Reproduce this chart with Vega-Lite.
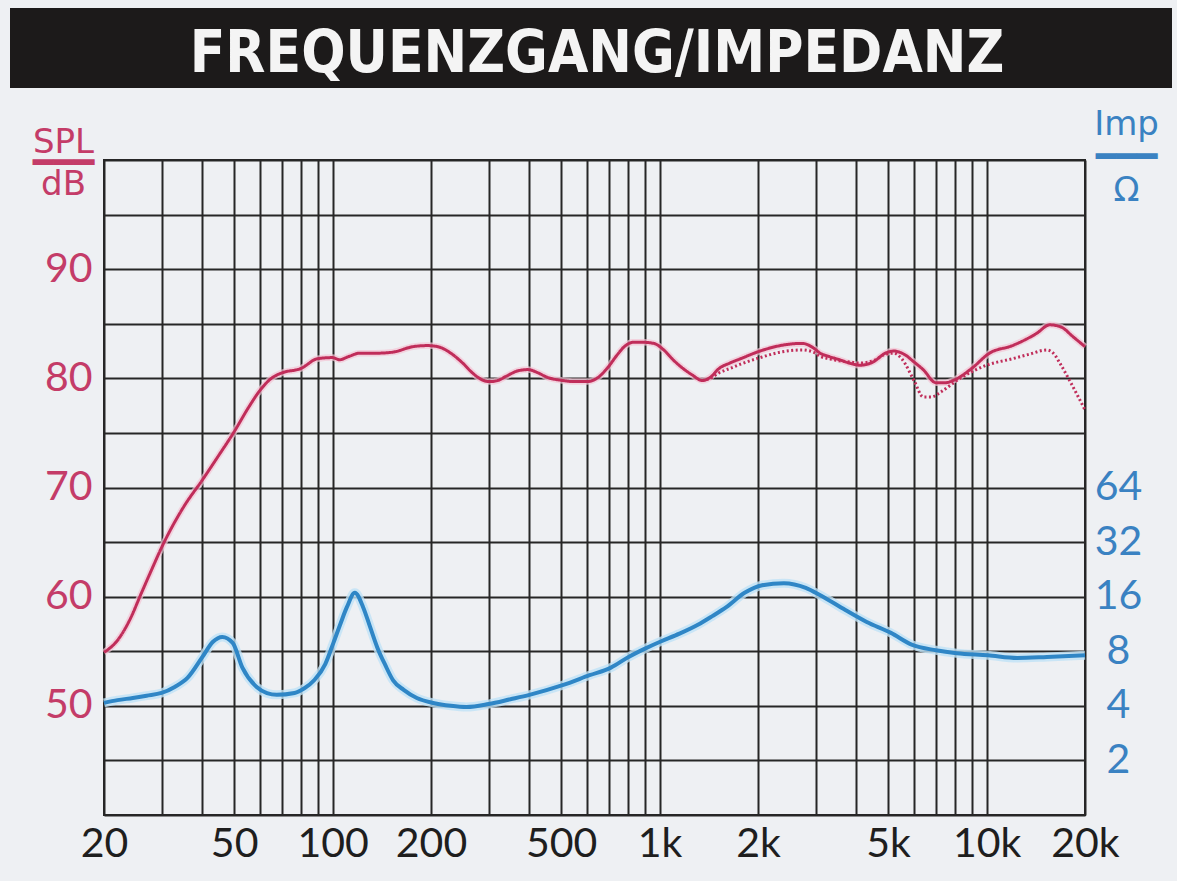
{
  "$schema": "https://vega.github.io/schema/vega-lite/v6.json",
  "background": "#eef0f3",
  "padding": {"left": 10, "top": 8, "right": 5, "bottom": 16},
  "autosize": {"type": "pad"},
  "bounds": "flush",
  "spacing": 72,
  "datasets": {
    "spl": [
      {"f": 20, "db": 54.9, "s": "solid"}, {"f": 22, "db": 56.0, "s": "solid"}, {"f": 24, "db": 57.9, "s": "solid"},
      {"f": 26, "db": 60.3, "s": "solid"}, {"f": 28, "db": 62.5, "s": "solid"}, {"f": 30, "db": 64.5, "s": "solid"},
      {"f": 35, "db": 68.2, "s": "solid"}, {"f": 40, "db": 70.7, "s": "solid"}, {"f": 45, "db": 73.0, "s": "solid"},
      {"f": 50, "db": 75.1, "s": "solid"}, {"f": 55, "db": 77.2, "s": "solid"}, {"f": 60, "db": 78.9, "s": "solid"},
      {"f": 65, "db": 80.0, "s": "solid"}, {"f": 70, "db": 80.5, "s": "solid"}, {"f": 80, "db": 80.9, "s": "solid"},
      {"f": 90, "db": 81.8, "s": "solid"}, {"f": 100, "db": 81.9, "s": "solid"}, {"f": 105, "db": 81.7, "s": "solid"},
      {"f": 112, "db": 82.0, "s": "solid"}, {"f": 121, "db": 82.3, "s": "solid"}, {"f": 135, "db": 82.3, "s": "solid"},
      {"f": 153, "db": 82.4, "s": "solid"}, {"f": 176, "db": 82.9, "s": "solid"}, {"f": 195, "db": 83.0, "s": "solid"},
      {"f": 210, "db": 82.9, "s": "solid"}, {"f": 230, "db": 82.3, "s": "solid"}, {"f": 250, "db": 81.4, "s": "solid"},
      {"f": 270, "db": 80.4, "s": "solid"}, {"f": 290, "db": 79.8, "s": "solid"}, {"f": 303, "db": 79.7, "s": "solid"},
      {"f": 320, "db": 79.8, "s": "solid"}, {"f": 340, "db": 80.2, "s": "solid"}, {"f": 370, "db": 80.7, "s": "solid"},
      {"f": 396, "db": 80.8, "s": "solid"}, {"f": 425, "db": 80.5, "s": "solid"}, {"f": 453, "db": 80.1, "s": "solid"},
      {"f": 506, "db": 79.8, "s": "solid"}, {"f": 550, "db": 79.7, "s": "solid"}, {"f": 600, "db": 79.7, "s": "solid"},
      {"f": 650, "db": 80.1, "s": "solid"}, {"f": 695, "db": 81.0, "s": "solid"}, {"f": 740, "db": 82.1, "s": "solid"},
      {"f": 780, "db": 82.9, "s": "solid"}, {"f": 830, "db": 83.3, "s": "solid"}, {"f": 890, "db": 83.3, "s": "solid"},
      {"f": 960, "db": 83.2, "s": "solid"}, {"f": 1030, "db": 82.6, "s": "solid"}, {"f": 1100, "db": 81.7, "s": "solid"},
      {"f": 1180, "db": 80.9, "s": "solid"}, {"f": 1260, "db": 80.3, "s": "solid"}, {"f": 1350, "db": 79.8, "s": "solid"},
      {"f": 1430, "db": 80.1, "s": "solid"}, {"f": 1520, "db": 80.9, "s": "solid"}, {"f": 1640, "db": 81.4, "s": "solid"},
      {"f": 1770, "db": 81.8, "s": "solid"}, {"f": 2030, "db": 82.5, "s": "solid"}, {"f": 2340, "db": 83.0, "s": "solid"},
      {"f": 2730, "db": 83.2, "s": "solid"}, {"f": 2950, "db": 82.8, "s": "solid"}, {"f": 3100, "db": 82.3, "s": "solid"},
      {"f": 3300, "db": 82.0, "s": "solid"}, {"f": 3550, "db": 81.7, "s": "solid"}, {"f": 3800, "db": 81.4, "s": "solid"},
      {"f": 4100, "db": 81.2, "s": "solid"}, {"f": 4500, "db": 81.5, "s": "solid"}, {"f": 4900, "db": 82.3, "s": "solid"},
      {"f": 5200, "db": 82.5, "s": "solid"}, {"f": 5600, "db": 82.2, "s": "solid"}, {"f": 6000, "db": 81.5, "s": "solid"},
      {"f": 6400, "db": 80.8, "s": "solid"}, {"f": 7000, "db": 79.6, "s": "solid"}, {"f": 7500, "db": 79.6, "s": "solid"},
      {"f": 7900, "db": 79.8, "s": "solid"}, {"f": 9000, "db": 80.9, "s": "solid"}, {"f": 10200, "db": 82.3, "s": "solid"},
      {"f": 12000, "db": 83.0, "s": "solid"}, {"f": 14200, "db": 84.1, "s": "solid"}, {"f": 15600, "db": 84.9, "s": "solid"},
      {"f": 16900, "db": 84.7, "s": "solid"}, {"f": 18400, "db": 83.8, "s": "solid"}, {"f": 20000, "db": 82.9, "s": "solid"},
      {"f": 1350, "db": 79.8, "s": "dotted"}, {"f": 1430, "db": 80.0, "s": "dotted"}, {"f": 1520, "db": 80.5, "s": "dotted"},
      {"f": 1640, "db": 80.9, "s": "dotted"}, {"f": 1770, "db": 81.3, "s": "dotted"}, {"f": 2030, "db": 81.9, "s": "dotted"},
      {"f": 2340, "db": 82.4, "s": "dotted"}, {"f": 2730, "db": 82.6, "s": "dotted"}, {"f": 2950, "db": 82.4, "s": "dotted"},
      {"f": 3100, "db": 82.0, "s": "dotted"}, {"f": 3300, "db": 81.8, "s": "dotted"}, {"f": 3550, "db": 81.6, "s": "dotted"},
      {"f": 3800, "db": 81.5, "s": "dotted"}, {"f": 4100, "db": 81.4, "s": "dotted"}, {"f": 4500, "db": 81.6, "s": "dotted"},
      {"f": 4900, "db": 82.2, "s": "dotted"}, {"f": 5200, "db": 82.3, "s": "dotted"}, {"f": 5500, "db": 81.8, "s": "dotted"},
      {"f": 6000, "db": 79.8, "s": "dotted"}, {"f": 6400, "db": 78.3, "s": "dotted"}, {"f": 6800, "db": 78.3, "s": "dotted"},
      {"f": 7200, "db": 78.7, "s": "dotted"}, {"f": 8300, "db": 80.0, "s": "dotted"}, {"f": 10000, "db": 81.2, "s": "dotted"},
      {"f": 12000, "db": 81.8, "s": "dotted"}, {"f": 13500, "db": 82.2, "s": "dotted"}, {"f": 15300, "db": 82.6, "s": "dotted"},
      {"f": 16000, "db": 82.3, "s": "dotted"}, {"f": 16900, "db": 81.2, "s": "dotted"}, {"f": 18100, "db": 79.6, "s": "dotted"},
      {"f": 19000, "db": 78.4, "s": "dotted"}, {"f": 20000, "db": 77.1, "s": "dotted"}
    ],
    "imp": [
      {"f": 20, "z": 4.15}, {"f": 22, "z": 4.3}, {"f": 24.5, "z": 4.42}, {"f": 27, "z": 4.55}, {"f": 30, "z": 4.71},
      {"f": 33, "z": 5.1}, {"f": 36, "z": 5.7}, {"f": 40, "z": 7.44}, {"f": 43, "z": 9.0}, {"f": 46, "z": 9.6},
      {"f": 49.5, "z": 8.9}, {"f": 53, "z": 6.5}, {"f": 58.6, "z": 5.08}, {"f": 63, "z": 4.7}, {"f": 67.5, "z": 4.6},
      {"f": 76.5, "z": 4.71}, {"f": 82, "z": 5.0}, {"f": 88, "z": 5.55}, {"f": 95, "z": 6.8}, {"f": 100.6, "z": 8.9},
      {"f": 106, "z": 11.5}, {"f": 110.6, "z": 14.0}, {"f": 117, "z": 16.8}, {"f": 124, "z": 14.0}, {"f": 130, "z": 11.0},
      {"f": 137, "z": 8.4}, {"f": 145, "z": 6.7}, {"f": 153, "z": 5.55}, {"f": 165, "z": 4.9}, {"f": 181, "z": 4.42},
      {"f": 203, "z": 4.15}, {"f": 230, "z": 4.0}, {"f": 257, "z": 3.94}, {"f": 300, "z": 4.09}, {"f": 350, "z": 4.35},
      {"f": 400, "z": 4.6}, {"f": 505, "z": 5.2}, {"f": 611, "z": 5.9}, {"f": 710, "z": 6.5}, {"f": 804, "z": 7.44},
      {"f": 906, "z": 8.3}, {"f": 1000, "z": 9.0}, {"f": 1150, "z": 10.0}, {"f": 1310, "z": 11.2}, {"f": 1450, "z": 12.5},
      {"f": 1600, "z": 14.0}, {"f": 1820, "z": 16.8}, {"f": 2060, "z": 18.5}, {"f": 2400, "z": 19.0}, {"f": 2800, "z": 17.9},
      {"f": 3100, "z": 16.3}, {"f": 3700, "z": 13.5}, {"f": 4300, "z": 11.6}, {"f": 5100, "z": 10.1}, {"f": 5900, "z": 8.7},
      {"f": 7000, "z": 8.1}, {"f": 8100, "z": 7.8}, {"f": 10100, "z": 7.6}, {"f": 12400, "z": 7.35}, {"f": 15300, "z": 7.44},
      {"f": 20000, "z": 7.6}
    ],
    "head": [{"t": "FREQUENZGANG/IMPEDANZ"}]
  },
  "vconcat": [
    {
      "width": 1162,
      "height": 80,
      "view": {"fill": "#1c1a1a", "stroke": null},
      "data": {"name": "head"},
      "mark": {"type": "text", "font": "Liberation Sans Narrow, DejaVu Sans Condensed, sans-serif", "fontSize": 58, "fontWeight": "bold", "color": "#f4f4f4", "baseline": "alphabetic", "dx": 6, "dy": 24},
      "encoding": {"text": {"field": "t"}}
    },
    {
      "bounds": "flush",
      "spacing": 0,
      "hconcat": [
        {
          "width": 94,
          "height": 655,
          "view": {"fill": null, "stroke": null},
          "data": {"name": "head"},
          "mark": {"type": "text"},
          "encoding": {"text": {"value": ""}}
        },
        {
          "width": 981,
          "height": 655,
          "view": {"fill": "#eef0f3", "stroke": "#262626", "strokeWidth": 2},
          "layer": [
            {
              "data": {"name": "spl"},
              "encoding": {
                "x": {
                  "field": "f", "type": "quantitative",
                  "scale": {"type": "log", "domain": [20, 20000], "nice": false},
                  "axis": {
                    "values": [20, 30, 40, 50, 60, 70, 80, 90, 100, 200, 300, 400, 500, 600, 700, 800, 900, 1000, 2000, 3000, 4000, 5000, 6000, 7000, 8000, 9000, 10000, 20000],
                    "grid": true, "gridColor": "#262626", "gridWidth": 2, "gridOpacity": 1,
                    "ticks": false, "tickSize": 0, "domain": false,
                    "labelExpr": "indexof([20,50,100,200,500,1000,2000,5000,10000,20000], datum.value) >= 0 ? (datum.value >= 1000 ? (datum.value/1000) + 'k' : '' + datum.value) : ''",
                    "labelFont": "Lato", "labelFontSize": 41, "labelColor": "#1e1e1e", "labelPadding": 9,
                    "labelOverlap": false, "labelBound": false, "labelFlush": false,
                    "title": null
                  }
                },
                "y": {
                  "field": "db", "type": "quantitative",
                  "scale": {"domain": [40, 100], "nice": false, "zero": false},
                  "axis": {
                    "values": [40, 45, 50, 55, 60, 65, 70, 75, 80, 85, 90, 95, 100],
                    "grid": true, "gridColor": "#262626", "gridWidth": 2.2, "gridOpacity": 1,
                    "ticks": false, "tickSize": 0, "domain": false,
                    "labelExpr": "(datum.value % 10 === 0 && datum.value >= 50 && datum.value <= 90) ? '' + datum.value : ''",
                    "labelFont": "Lato", "labelFontSize": 41, "labelColor": "#c43c68", "labelPadding": 12,
                    "labelOverlap": false, "labelBound": false, "labelFlush": false,
                    "title": ["SPL", "━━━", "dB"],
                    "titleFont": "DejaVu Sans", "titleFontSize": 34, "titleFontWeight": "normal", "titleColor": "#c43c68",
                    "titleAngle": 0, "titleAlign": "center", "titleBaseline": "top",
                    "titleX": -41, "titleY": -35, "titleLineHeight": 21
                  }
                }
              },
              "layer": [
                {
                  "transform": [{"filter": "datum.s === 'solid'"}],
                  "mark": {"type": "line", "color": "#f3c4d4", "strokeWidth": 6.5, "opacity": 0.7, "interpolate": "monotone"}
                },
                {
                  "mark": {"type": "line", "color": "#c02d5a", "strokeWidth": 3, "interpolate": "monotone"},
                  "encoding": {
                    "strokeDash": {
                      "field": "s", "type": "nominal",
                      "scale": {"domain": ["solid", "dotted"], "range": [[1, 0], [2, 2.5]]},
                      "legend": null
                    }
                  }
                }
              ]
            },
            {
              "data": {"name": "imp"},
              "encoding": {
                "x": {"field": "f", "type": "quantitative"},
                "y": {
                  "field": "z", "type": "quantitative",
                  "scale": {"type": "log", "base": 2, "domain": [1, 4096], "nice": false},
                  "axis": {
                    "orient": "right",
                    "values": [2, 4, 8, 16, 32, 64],
                    "grid": false, "ticks": false, "tickSize": 0, "domain": false,
                    "labelExpr": "'' + datum.value",
                    "labelFont": "Lato", "labelFontSize": 41, "labelColor": "#3a82c2", "labelPadding": 33,
                    "labelAlign": "center",
                    "labelOverlap": false, "labelBound": false, "labelFlush": false,
                    "title": ["Imp", "━━━", "Ω"],
                    "titleFont": "DejaVu Sans", "titleFontSize": 34, "titleFontWeight": "normal", "titleColor": "#3a82c2",
                    "titleAngle": 0, "titleAlign": "center", "titleBaseline": "top",
                    "titleX": 41, "titleY": -53, "titleLineHeight": 33
                  }
                }
              },
              "layer": [
                {"mark": {"type": "line", "color": "#bfe2f6", "strokeWidth": 9, "opacity": 0.8, "interpolate": "monotone"}},
                {"mark": {"type": "line", "color": "#2f86c6", "strokeWidth": 4, "interpolate": "monotone"}}
              ]
            }
          ],
          "resolve": {"scale": {"y": "independent"}}
        }
      ]
    }
  ],
  "config": {
    "font": "Lato",
    "view": {"stroke": null}
  }
}
